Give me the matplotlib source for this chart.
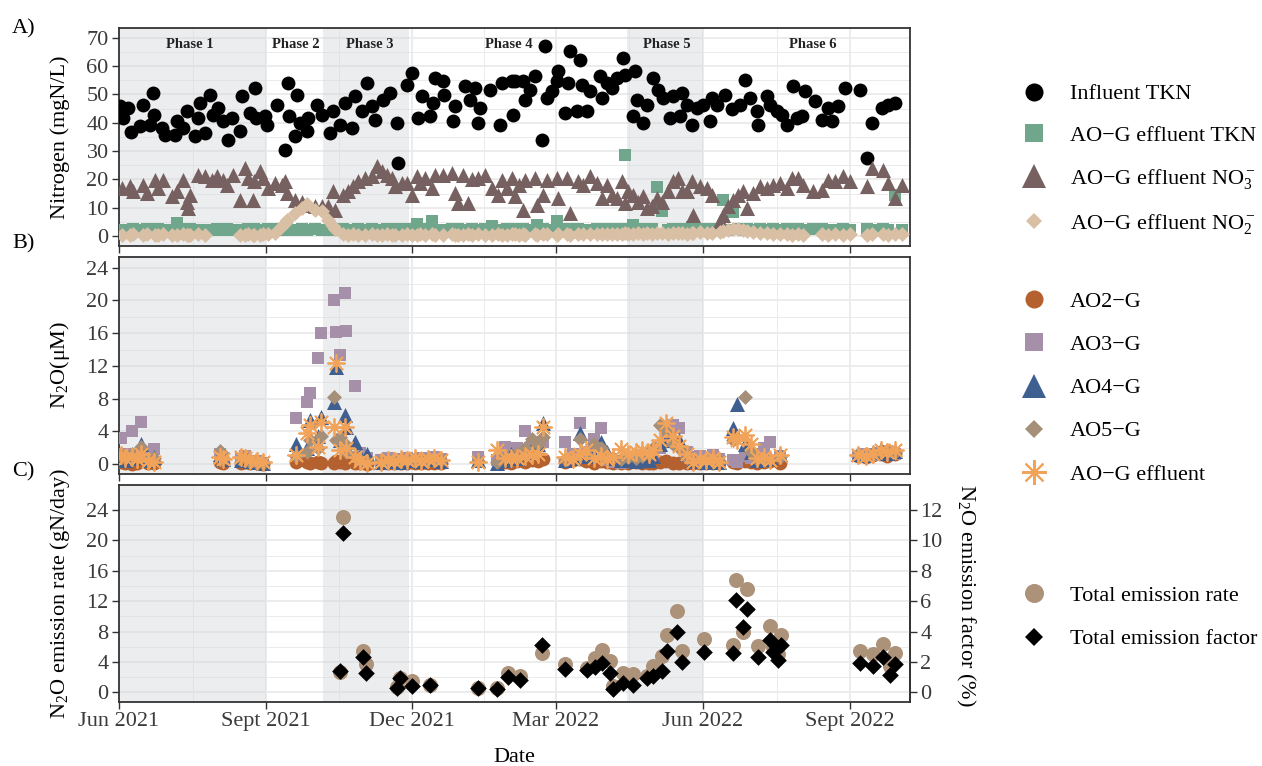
import numpy as np
import pandas as pd
import matplotlib
matplotlib.use("Agg")
import matplotlib.pyplot as plt
from matplotlib.lines import Line2D

plt.rcParams['font.family'] = ['Liberation Serif', 'DejaVu Serif']
plt.rcParams['mathtext.fontset'] = 'custom'
plt.rcParams['mathtext.rm'] = 'Liberation Serif'
plt.rcParams['mathtext.it'] = 'Liberation Serif:italic'

nan = np.nan
start = pd.Timestamp('2021-06-01')   # day 0

# ---------------- A) nitrogen (days since 1 Jun 2021) ----------------
inf_day = [0.6, 2.7, 5.8, 7.5, 13.1, 15.2, 21.5, 22.0, 19.4, 26.7, 28.8, 35.0, 36.0, 40.2, 42.3, 47.5, 49.6, 50.6, 53.8, 56.9,
           59.0, 62.1, 65.2, 68.3, 70.4, 75.6, 76.7, 81.9, 85.0, 85.5, 91.3, 92.3, 98.5, 103.8, 105.8, 106.3, 110.0, 111.0, 113.0, 117.3,
           118.3, 123.5, 126.7, 131.9, 134.0, 138.0, 141.3, 145.4, 147.5, 151.7, 154.8, 157.9, 160.0, 165.2, 169.4, 173.5, 174.6, 179.8, 182.9, 187.0,
           189.2, 194.4, 196.5, 197.5, 202.7, 203.2, 210.0, 209.0, 216.3, 219.4, 222.5, 224.6, 225.6, 231.9, 238.1, 239.2, 245.4,
           246.5, 247.5, 252.7, 253.8, 256.9, 260.0, 264.2, 266.3, 267.3, 270.4, 274.6, 273.6, 278.8, 280.9, 281.9, 286.0, 288.2, 289.2, 292.3, 294.4,
           300.7, 301.7, 304.8, 307.9, 311.1, 315.2, 316.3, 322.5, 321.5, 323.6, 327.7, 329.8, 334.0, 337.1, 340.2, 344.4, 346.5, 350.6, 351.7, 354.8,
           357.9, 361.1, 365.2, 369.4, 370.4, 373.6, 378.8, 383.0, 388.2, 391.3, 394.4, 398.6, 399.6, 404.8, 406.9, 411.1, 414.2, 417.3, 421.5, 423.6,
           426.7, 428.8, 435.0, 439.2, 443.4, 445.4, 449.6, 453.8, 463.1, 467.3, 470.4, 476.7, 480.9, 485.0]
inf_tkn = [45.8, 41.7, 45.2, 36.9, 38.8, 46.4, 50.5, 42.9, 39.3, 38.2, 35.8, 35.8, 40.5, 38.2, 44.1, 35.2, 41.7, 47.0, 36.4, 49.9,
           42.9, 45.2, 40.5, 34.0, 41.7, 37.0, 49.4, 43.5, 52.3, 41.7, 42.3, 39.3, 46.4, 30.5, 54.1, 42.3, 35.2, 49.9, 39.9, 37.0,
           41.7, 46.4, 42.9, 36.4, 44.1, 39.3, 47.0, 38.2, 49.4, 44.1, 54.1, 45.8, 41.1, 48.2, 50.5, 39.9, 25.8, 53.5, 57.6, 41.7,
           49.4, 42.3, 47.0, 55.8, 54.7, 49.9, 45.8, 40.5, 52.9, 48.2, 52.3, 39.9, 45.2, 51.7, 39.3, 54.1, 54.7,
           42.9, 54.6, 54.6, 48.2, 51.7, 56.4, 34.0, 67.0, 48.8, 51.1, 58.2, 54.7, 43.5, 54.1, 65.3, 44.1, 62.3, 53.5, 44.1, 51.1,
           56.4, 48.8, 54.1, 52.3, 55.8, 62.9, 57.0, 58.2, 42.3, 48.2, 39.9, 46.4, 55.8, 51.7, 48.8, 41.7, 49.4, 42.3, 50.5, 46.4,
           39.3, 45.2, 46.4, 40.5, 48.8, 46.4, 49.9, 44.7, 46.4, 55.2, 48.8, 44.1, 39.3, 49.4, 46.4, 44.1, 42.9, 39.3, 52.9, 41.7,
           42.3, 51.1, 47.6, 41.1, 45.2, 40.5, 46.0, 52.3, 51.7, 27.6, 39.9, 45.2, 46.4, 47.0]

eff_day = [1.7, 6.9, 9.0, 15.2, 17.3, 22.5, 24.6, 27.7, 32.9, 36.0, 40.2, 42.3, 43.3, 44.4, 49.6, 53.8, 57.9, 61.0, 65.2, 67.3,
           71.5, 75.6, 78.8, 80.8, 84.0, 84.5, 88.1, 90.2, 93.3, 97.5, 101.7, 103.8, 104.8, 110.0, 114.2, 117.3, 122.5, 126.7, 130.8, 134.0,
           135.0, 140.2, 143.3, 146.5, 149.6, 153.8, 157.9, 161.0, 164.2, 167.3, 170.4, 172.5, 176.7, 179.8, 182.9, 186.0, 188.1, 191.3, 195.4, 197.5,
           202.7, 207.9, 210.0, 212.1, 215.2, 218.3, 220.4, 224.6, 228.8, 233.0, 237.1, 239.2, 242.3, 245.4,
           247.5, 250.0, 252.7, 253.8, 260.0, 261.0, 265.2, 267.3, 273.6, 274.6, 279.8, 281.9, 287.1, 290.2, 294.4, 298.6, 301.7, 304.8, 308.0, 311.1,
           314.2, 316.3, 318.4, 321.5, 324.6, 327.7, 329.8, 333.0, 336.1, 339.2, 343.4, 346.5, 349.6, 351.7, 354.8, 358.0, 359.0, 363.1, 367.3, 370.4,
           375.6, 377.7, 380.8, 384.0, 387.1, 390.2, 392.3, 396.5, 400.6, 404.8, 409.0, 413.1, 417.3, 420.4, 424.6, 427.7, 434.0, 439.2, 443.4, 447.5,
           452.7, 456.9, 467.3, 470.4, 477.7, 480.9, 485.0, 489.2]
eff_tkn = [2.3, 2.1, 2.5, 2.2, 2.4, 2.0, 2.6, 2.2, 2.3, 4.6, 2.1, 2.4, 2.2, 2.5, 2.0, 2.3, 2.1, 2.4, 2.2, 2.5,
           2.0, 2.3, 2.2, 2.4, 2.1, 2.6, 2.3, 2.2, 2.5, 2.4, 2.1, 2.3, 2.6, 2.2, 2.4, 2.1, 2.5, 2.3, 2.2, 2.4,
           2.0, 2.6, 2.3, 2.2, 2.5, 2.1, 2.4, 2.3, 2.2, 2.6, 2.1, 2.4, 2.2, 2.5, 2.3, 4.4, 2.2, 2.4, 5.2, 2.3,
           2.1, 2.5, 2.2, 2.4, 2.3, 2.1, 2.6, 2.2, 2.4, 3.6, 2.3, 2.2, 2.5, 2.1,
           2.4, 2.2, 2.5, 2.3, 2.1, 3.8, 2.4, 2.2, 5.2, 2.3, 2.5, 2.2, 2.4, 2.1, 2.3, 2.6, 2.2, 2.4, 2.3, 2.5,
           2.2, 28.5, 2.4, 4.0, 2.3, 2.5, 2.2, 2.4, 17.5, 8.7, 2.3, 2.5, 2.2, 2.4, 2.6, 3.2, 2.3, 2.5, 2.2, 2.4,
           2.6, 12.7, 2.3, 8.5, 2.4, 2.2, 2.5, 2.3, 2.4, 2.2, 2.5, 2.3, 2.4, 2.2, 2.6, 2.3, 2.4, 2.5, 2.2, 2.3,
           2.5, 2.2, 2.4, 2.3, 2.6, 2.2, 14.6, 2.3]
eff_no3 = [17.0, 17.6, 15.8, 18.1, 15.2, 19.9, 17.0, 19.9, 14.0, 15.8, 19.9, 12.2, 9.9, 14.6, 21.7, 21.1, 19.9, 21.1, 19.9, 18.1,
           21.7, 12.8, 24.1, 20.5, 12.8, 19.3, 22.9, 20.5, 17.0, 18.7, 18.1, 19.3, 15.2, 12.8, 12.2, 11.1, 10.5, 10.5, 10.5, 15.8,
           9.3, 14.6, 15.8, 17.6, 19.3, 20.5, 21.1, 24.6, 22.9, 21.7, 20.5, 17.6, 18.7, 18.7, 14.6, 21.1, 18.7, 20.5, 17.0, 21.7,
           21.7, 22.3, 15.2, 11.7, 21.7, 11.7, 20.0, 20.5, 21.7, 17.0, 14.6, 19.9, 17.0, 20.5,
           14.0, 18.1, 9.3, 19.9, 20.5, 11.1, 14.6, 19.9, 20.5, 13.4, 20.5, 8.1, 19.3, 18.1, 21.1, 18.7, 13.4, 18.1, 14.6, 13.4,
           19.3, 11.7, 15.8, 14.6, 12.2, 14.0, 9.9, 10.5, 13.4, 12.2, 15.8, 19.3, 20.5, 15.8, 15.8, 19.3, 7.5, 17.6, 17.0, 14.6,
           5.2, 7.5, 10.5, 12.8, 14.6, 15.8, 9.9, 15.2, 17.6, 17.0, 18.1, 18.7, 17.0, 20.5, 20.5, 18.1, 15.8, 16.4, 19.9, 19.3,
           21.1, 19.3, 17.6, 24.0, 23.4, 18.7, 13.4, 18.1]
eff_no2 = [0.5, 0.3, 0.6, 0.4, 0.7, 0.5, 0.3, 0.6, 0.5, 0.4, 0.6, 0.5, 0.3, 0.5, 0.6, 0.4, nan, nan, nan, nan,
           nan, 0.5, 0.4, 0.6, 0.5, 0.3, 0.5, 0.7, 0.6, 1.0, 3.4, 4.6, 5.8, 8.1, 9.9, 11.3, 9.3, 8.8, 5.8, 3.4,
           2.6, 0.8, 0.5, 0.6, 0.4, 0.5, 0.7, 0.5, 0.4, 0.6, 0.5, 0.5, 0.3, 0.6, 0.5, 0.4, 0.6, 0.5, 0.7, 0.5,
           0.4, 0.6, 0.5, 0.5, 0.3, 0.6, 0.5, 0.7, 0.5, 0.4, 0.6, 0.5, 0.5, 0.6,
           0.6, 0.5, 0.7, 0.5, 0.6, 0.4, 0.8, 0.6, 0.5, 0.7, 0.6, 0.5, 0.8, 0.6, 0.9, 0.7, 0.6, 0.8, 0.7, 0.9,
           0.8, 1.0, 0.7, 0.9, 1.1, 0.8, 1.0, 0.9, 1.2, 1.0, 0.9, 1.1, 1.0, 1.2, 0.9, 1.1, 1.0, 1.3, 1.1, 1.2,
           1.4, 1.8, 2.2, 2.6, 2.4, 2.0, 1.8, 1.5, 1.2, 1.0, 0.8, 0.7, 0.6, 0.5, 0.7, 0.5, nan, 0.6, 0.5, 0.7,
           0.5, 0.6, 0.5, 0.7, 0.6, 0.5, 0.8, 0.9]

# ---------------- B) dissolved N2O (uM) ----------------
b_day = [1, 4, 8, 11, 14, 18, 22,
         63, 65,
         76, 79, 82, 86, 90,
         110.6, 117.5, 119.4, 124.4, 126.3, 134.4, 135.6, 138, 141, 142, 147.5, 150.6, 155,
         164, 168, 172, 176, 180, 185, 189, 193, 197, 201,
         224.6, 236, 241, 245, 249, 253.7, 258, 262, 265,
         279, 284, 288, 292, 297, 301, 305, 309, 314, 318, 323, 327, 331, 334, 338, 342,
         346, 350, 355, 359, 363, 367, 371, 375, 384, 386, 391, 395, 399, 403, 407, 413,
         462, 467, 471, 476, 480, 485]
ao2 = [0.3, 0.2, 0.0, 0.2, 0.4, 0.2, 0.1,
       0.3, 0.2,
       0.2, 0.3, 0.1, 0.1, 0.0,
       0.3, 0.3, 0.1, 0.3, 0.2, 0.2, 0.4, 0.3, 0.2, 0.5, 0.2, 0.1, 0.0,
       0.1, 0.2, 0.1, 0.2, 0.1, 0.2, 0.1, 0.2, 0.2, 0.1,
       nan, nan, 0.3, 0.2, 0.4, 0.3, 0.5, 0.4, 0.6,
       0.3, 0.5, 0.6, 0.4, 0.2, 0.4, 0.3, 0.2, 0.1, 0.2, 0.3, 0.2, 0.1, 0.2, 0.3, 0.4,
       0.2, 0.1, 0.2, 0.1, 0.2, 0.1, 0.2, 0.1, 0.3, 0.2, 0.4, 0.3, 0.2, 0.3, 0.4, 0.2,
       1.0, 0.9, 1.1, 1.2, 1.0, 1.3]
ao3 = [3.2, 1.2, 4.0, 1.0, 5.2, 1.2, 1.9,
       1.3, 0.8,
       0.6, 1.0, 0.3, 0.4, 0.2,
       5.6, 7.6, 8.7, 13.0, 16.0, 20.1, 16.2, 13.3, 20.9, 16.3, 9.5, 1.4, 0.8,
       0.5, 0.7, 0.6, 0.5, 0.8, 0.6, 0.7, 0.5, 0.9, 0.6,
       0.9, 0.5, 2.1, 1.5, 2.0, 4.0, 2.5, 2.7, 2.7,
       2.7, 1.2, 5.0, 1.5, 3.1, 4.4, 0.5, 0.3, 0.2, 0.4, 0.3, 0.5, 0.6, 0.8, 2.0, 3.5,
       4.8, 4.4, 1.5, 0.9, 1.0, 0.9, 1.1, 0.6, 0.5, 0.3, 1.0, 0.8, 1.2, 2.0, 2.7, 1.0,
       1.0, 1.2, 1.1, 1.4, 1.6, 1.3]
ao4 = [0.8, 0.5, 0.7, 0.9, 2.5, 0.5, 0.9,
       1.2, 0.6,
       0.5, 0.8, 0.4, 0.3, 0.2,
       2.5, 2.0, 5.4, 3.5, 5.8, 7.6, 11.9, 3.0, 6.0, 4.5, 2.7, 1.0, 1.3,
       0.3, 0.4, 0.5, 0.3, 0.6, 0.5, 0.4, 0.6, 0.7, 0.4,
       0.5, 0.1, 0.5, 1.2, 0.8, 1.5, 2.0, 2.5, 5.0,
       0.5, 0.8, 3.8, 1.0, 2.0, 2.7, 1.5, 0.8, 0.5, 0.6, 0.4, 0.8, 0.5, 1.0, 2.5, 3.0,
       3.2, 2.9, 1.2, 0.4, 0.5, 0.3, 0.5, 0.3, 4.4, 7.4, 2.5, 1.5, 0.5, 0.6, 0.8, 1.2,
       1.3, 1.1, 1.5, 1.8, 1.4, 1.6]
ao5 = [1.0, 0.8, 1.2, 1.0, 2.1, 0.6, 0.8,
       1.6, 0.7,
       0.7, 0.9, 0.3, 0.2, 0.1,
       1.0, 1.5, 3.0, 2.0, 3.5, 8.2, 3.0, 3.3, 2.5, 1.5, 1.0, 0.5, 0.3,
       0.4, 0.5, 0.4, 0.5, 0.5, 0.6, 0.5, 0.6, 0.6, 0.5,
       0.4, 0.3, 0.9, 0.8, 1.2, 2.0, 3.1, 2.5, 3.3,
       0.6, 0.9, 3.1, 1.2, 2.5, 2.0, 1.0, 0.8, 0.6, 0.9, 0.8, 1.0, 1.2, 2.0, 4.8, 4.0,
       2.5, 2.0, 0.8, 0.5, 0.4, 0.6, 0.5, 0.4, 3.0, 3.2, 8.2, 1.5, 0.6, 0.8, 0.6, 0.9,
       1.2, 1.0, 1.3, 1.5, 1.6, 1.5]
ao_eff = [1.1, 0.8, 0.9, 0.6, 1.3, 0.4, 0.3,
          0.9, 0.6,
          0.9, 0.7, 0.5, 0.4, 0.3,
          1.1, 3.8, 4.8, 2.1, 5.2, 4.6, 12.3, 1.7, 4.6, 2.0, 0.9, 0.4, 0.1,
          0.3, 0.5, 0.4, 0.6, 0.5, 0.7, 0.4, 0.6, 0.8, 0.5,
          0.3, 1.7, 0.7, 0.8, 0.7, 1.0, 1.1, 1.3, 4.6,
          0.9, 0.6, 1.2, 1.7, 0.8, 1.0, 0.6, 0.9, 1.9, 1.2, 1.5, 1.7, 1.3, 1.7, 2.9, 5.0,
          3.5, 2.2, 1.3, 0.3, 0.6, 0.5, 0.8, 0.3, 3.3, 3.0, 3.6, 2.5, 0.7, 0.9, 0.5, 1.1,
          1.1, 1.0, 1.3, 1.7, 1.5, 1.7]

# ---------------- C) emissions ----------------
c_day = [138.1, 140.2, 152.7, 154.5, 173.5, 175.6, 183.0, 194.4, 224.6, 236.0, 243.3, 250.6, 264.2, 278.8,
         292.3, 297.5, 301.7, 306.9, 309.0, 315.2, 321.5, 329.8, 334.0, 339.2, 342.3, 348.5, 351.7, 365.6,
         384.0, 385.6, 390.2, 392.7, 399.6, 406.9, 409.0, 412.0, 413.5, 463.0, 471.0, 477.7, 481.9, 485.0]
em_rate = [2.7, 23.1, 5.4, 3.7, 0.7, 1.9, 1.5, 1.0, 0.6, 0.6, 2.5, 2.1, 5.2, 3.8,
           3.2, 4.5, 5.6, 4.1, 0.8, 2.6, 2.4, 2.2, 3.5, 4.8, 7.5, 10.7, 5.4, 7.0,
           6.3, 14.8, 8.0, 13.6, 6.1, 8.8, 6.0, 5.0, 7.6, 5.4, 5.0, 6.4, 3.5, 5.2]
em_factor = [1.4, 10.5, 2.35, 1.25, 0.3, 0.95, 0.4, 0.46, 0.3, 0.25, 1.03, 0.85, 3.1, 1.55,
             1.46, 1.7, 1.95, 1.3, 0.2, 0.63, 0.52, 0.96, 1.07, 1.4, 2.7, 3.95, 2.0, 2.65,
             2.6, 6.1, 4.3, 5.5, 2.35, 3.43, 2.65, 2.16, 3.15, 1.95, 1.77, 2.35, 1.18, 1.9]

# phases: boundaries, shaded ones, label positions (days)
phase_edges = [0, 92, 127.5, 181.3, 317.5, 365, 494.4]
phase_shaded = [True, False, True, False, True, False]
phase_names = ['Phase 1', 'Phase 2', 'Phase 3', 'Phase 4', 'Phase 5', 'Phase 6']
phase_label_day = [44.4, 110.3, 156.6, 243.8, 342.5, 433.8]

tick_dates = pd.to_datetime(['2021-06-01', '2021-09-01', '2021-12-01', '2022-03-01', '2022-06-01', '2022-09-01'])
tick_labels = ['Jun 2021', 'Sept 2021', 'Dec 2021', 'Mar 2022', 'Jun 2022', 'Sept 2022']


def to_date(days):
    return start + pd.to_timedelta(np.asarray(days, dtype=float), unit='D')


c_inf, c_tkn, c_no3, c_no2 = 'black', '#6FA68C', '#776060', '#D9BFA4'
c_ao2, c_ao3, c_ao4, c_ao5, c_eff = '#B5612F', '#A68FA8', '#405F91', '#A68F78', '#F2A35A'
c_rate = '#AD927A'
ink = '#333333'

fig = plt.figure(figsize=(12.62, 7.66), dpi=100)
axA = fig.add_axes([0.0943, 0.6789, 0.6268, 0.2846])
axB = fig.add_axes([0.0943, 0.3812, 0.6268, 0.2833])
axC = fig.add_axes([0.0943, 0.0836, 0.6268, 0.2833])

minor_dates = tick_dates[:-1] + (tick_dates[1:] - tick_dates[:-1]) / 2

for ax, ylim, major, minor in [(axA, (-3.5, 73.5), np.arange(0, 71, 10), np.arange(5, 71, 10)),
                               (axB, (-1.2, 25.3), np.arange(0, 25, 4), np.arange(2, 25, 4)),
                               (axC, (-1.25, 27.3), np.arange(0, 25, 4), np.arange(2, 27, 4))]:
    ax.set_xlim(to_date([0, 494.4]))
    ax.set_ylim(*ylim)
    ax.set_xticks(tick_dates)
    ax.set_xticks(minor_dates, minor=True)
    ax.set_yticks(major)
    ax.set_yticks(minor, minor=True)
    ax.set_axisbelow(True)
    ax.grid(which='major', color='#EBEBEB', lw=1.3)
    ax.grid(which='minor', color='#EBEBEB', lw=0.7)
    for i, sh in enumerate(phase_shaded):
        if sh:
            ax.axvspan(to_date([phase_edges[i]])[0], to_date([phase_edges[i + 1]])[0],
                       color='#D5D8DC', alpha=0.45, lw=0, zorder=1)
    for s in ax.spines.values():
        s.set_color(ink)
        s.set_linewidth(1.3)
    ax.tick_params(which='major', length=5, width=1.0, color=ink, labelsize=16,
                   labelcolor='#3A3A3A', pad=2.5)
    ax.tick_params(which='minor', length=0)

axA.tick_params(labelbottom=False)
axB.tick_params(labelbottom=False)
axC.set_xticklabels(tick_labels)

# panel A
axA.scatter(to_date(inf_day), inf_tkn, s=100, marker='o', color=c_inf, lw=0, zorder=3)
axA.scatter(to_date(eff_day), eff_tkn, s=74, marker='s', color=c_tkn, lw=0, zorder=3)
axA.scatter(to_date(eff_day), eff_no3, s=117, marker='^', color=c_no3, lw=0, zorder=3)
axA.scatter(to_date(eff_day), eff_no2, s=58, marker='D', color=c_no2, lw=0, zorder=3)
for name, d in zip(phase_names, phase_label_day):
    axA.text(to_date([d])[0], 67.8, name, ha='center', va='center', fontsize=10.5,
             fontweight='bold', color='#222222', zorder=4)

# panel B
bd = to_date(b_day)
axB.scatter(bd, ao2, s=100, marker='o', color=c_ao2, lw=0, zorder=3)
axB.scatter(bd, ao3, s=81, marker='s', color=c_ao3, lw=0, zorder=3)
axB.scatter(bd, ao4, s=117, marker='^', color=c_ao4, lw=0, zorder=3)
axB.scatter(bd, ao5, s=58, marker='D', color=c_ao5, lw=0, zorder=3)
axB.scatter(bd, ao_eff, s=150, marker=(8, 2, 0), color=c_eff, lw=1.3, zorder=4)

# panel C (factor on right axis = rate / 2)
cd = to_date(c_day)
axC.scatter(cd, em_rate, s=117, marker='o', color=c_rate, lw=0, zorder=3)
axC.scatter(cd, np.array(em_factor) * 2, s=72, marker='D', color='black', lw=0, zorder=4)
sec = axC.secondary_yaxis('right', functions=(lambda r: r / 2, lambda f: f * 2))
sec.set_yticks(np.arange(0, 13, 2))
sec.tick_params(length=5, width=1.0, color=ink, labelsize=16, labelcolor='#3A3A3A', pad=2.5)
sec.spines['right'].set_color(ink)
sec.spines['right'].set_linewidth(1.3)

# axis titles and panel tags
W, H = 1262, 766
fig.text(60 / W, 1 - 137 / H, 'Nitrogen (mgN/L)', rotation=90, ha='center', va='center', fontsize=16)
fig.text(60 / W, 1 - 365 / H, 'N$_2$O(μM)', rotation=90, ha='center', va='center', fontsize=16)
fig.text(60 / W, 1 - 593 / H, 'N$_2$O emission rate (gN/day)', rotation=90, ha='center', va='center', fontsize=16)
fig.text(966 / W, 1 - 595 / H, 'N$_2$O emission factor (%)', rotation=270, ha='center', va='center', fontsize=16)
fig.text(514 / W, 1 - 757 / H, 'Date', ha='center', va='center', fontsize=16)
for tag, yy in [('A)', 29), ('B)', 244), ('C)', 472)]:
    fig.text(12 / W, 1 - yy / H, tag, ha='left', va='center', fontsize=16)

# legends
def h(marker, color, ms, mew=0):
    return Line2D([], [], ls='none', marker=marker, ms=ms, mfc=color, mec=color, mew=mew)

leg_kw = dict(loc='center left', frameon=False, fontsize=16, handlelength=1.0, handletextpad=1.1,
              borderaxespad=0, borderpad=0)
fig.legend(handles=[h('o', c_inf, 13), h('s', c_tkn, 12.7), h('^', c_no3, 17), h('D', c_no2, 8.5)],
           labels=['Influent TKN', 'AO\u2212G effluent TKN', 'AO\u2212G effluent NO$_3^-$', 'AO\u2212G effluent NO$_2^-$'],
           bbox_to_anchor=(1023 / W, 1 - 160 / H), labelspacing=0.95, **leg_kw)
fig.legend(handles=[h('o', c_ao2, 13), h('s', c_ao3, 12.7), h('^', c_ao4, 17), h('D', c_ao5, 8.7),
                    Line2D([], [], ls='none', marker=(8, 2, 0), ms=18, mec=c_eff, mew=1.5)],
           labels=['AO2\u2212G', 'AO3\u2212G', 'AO4\u2212G', 'AO5\u2212G', 'AO\u2212G effluent'],
           bbox_to_anchor=(1023 / W, 1 - 388 / H), labelspacing=1.02, **leg_kw)
fig.legend(handles=[h('o', c_rate, 13.7), h('D', 'black', 9)],
           labels=['Total emission rate', 'Total emission factor'],
           bbox_to_anchor=(1023 / W, 1 - 617.5 / H), labelspacing=1.02, **leg_kw)

fig.savefig('out.png', dpi=100)
